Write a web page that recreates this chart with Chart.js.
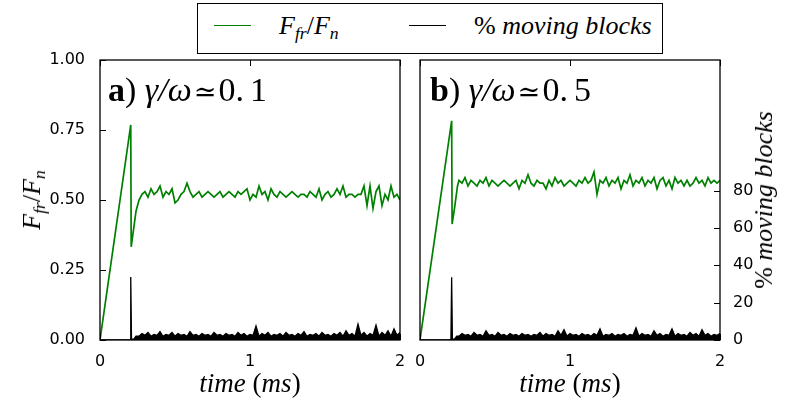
<!DOCTYPE html>
<html>
<head>
<meta charset="utf-8">
<script src="https://cdn.jsdelivr.net/npm/chart.js@4/dist/chart.umd.min.js"></script>
<style>
body { margin: 0; background: #fff; }
#wrap { position: relative; width: 800px; height: 400px; overflow: hidden; }
canvas { position: absolute; top: 0; }
.math { position: absolute; font-family: "Liberation Serif", serif; font-style: italic; white-space: nowrap; color: #000; line-height: 1; }
.up { font-style: normal; }
.sym { font-style: normal; font-family: "DejaVu Serif", serif; font-size: 80%; margin: 0 2px; }
.math sub { font-size: 68%; vertical-align: -0.28em; line-height: 0; }
#legend { position: absolute; left: 197px; top: 3px; width: 466px; height: 51px; border: 1px solid #000; box-sizing: border-box; background: #fff; }
.key { position: absolute; top: 21px; width: 37px; height: 1px; }
</style>
</head>
<body>
<div id="wrap">
  <canvas id="chartA" width="410" height="400" style="left:0"></canvas>
  <canvas id="chartB" width="390" height="400" style="left:410px"></canvas>

  <div id="legend">
    <span class="key" style="left:16px; background:#008000"></span>
    <span class="math" style="left:81px; top:22px; transform:translateY(-50%); font-size:26px">F<sub>fr</sub><span class="up">/</span>F<sub>n</sub></span>
    <span class="key" style="left:211px; background:#000"></span>
    <span class="math" style="left:276px; top:22px; transform:translateY(-50%); font-size:26px"><span class="up">%</span> moving blocks</span>
  </div>

  <div class="math" style="left:108px; top:90px; transform:translateY(-50%); font-size:34px"><b class="up">a</b><span class="up">)</span> γ/ω<span class="sym">≃</span><span class="up">0.<span style="margin-left:6px">1</span></span></div>
  <div class="math" style="left:430px; top:90px; transform:translateY(-50%); font-size:34px"><b class="up">b</b><span class="up">)</span> γ/ω<span class="sym">≃</span><span class="up">0.<span style="margin-left:6px">5</span></span></div>

  <div class="math" style="left:32px; top:200px; transform:translate(-50%,-50%) rotate(-90deg); font-size:26px">F<sub>fr</sub><span class="up">/</span>F<sub>n</sub></div>
  <div class="math" style="left:764px; top:200px; transform:translate(-50%,-50%) rotate(-90deg); font-size:26px"><span class="up">%</span> moving blocks</div>

  <div class="math" style="left:250px; top:383px; transform:translate(-50%,-50%); font-size:27px">time <span class="up">(</span>ms<span class="up">)</span></div>
  <div class="math" style="left:570px; top:383px; transform:translate(-50%,-50%); font-size:27px">time <span class="up">(</span>ms<span class="up">)</span></div>
</div>

<script>
// loading ramp, slip and recovery (before the steady regime)
const headTimeA = [0, 0.205, 0.208, 0.22, 0.24];
const headFrictionA = [0, 0.768, 0.333, 0.38, 0.46];
const headTimeB = [0, 0.211, 0.214, 0.23, 0.25];
const headFrictionB = [0, 0.783, 0.414, 0.47, 0.55];

const spikeTimeA = [0, 0.200, 0.205, 0.210, 0.225, 0.240];
const spikeMovingA = [0, 0, 33.7, 0.5, 0.5, 2];
const spikeTimeB = [0, 0.206, 0.211, 0.216, 0.230, 0.245];
const spikeMovingB = [0, 0, 33.6, 0.5, 0.5, 2];

// steady regime, time in ms
const timeSteady = [
    0.26, 0.28, 0.30, 0.32, 0.34, 0.36, 0.38, 0.40, 0.42, 0.44,
    0.46, 0.48, 0.50, 0.52, 0.54, 0.56, 0.58, 0.60, 0.62, 0.64,
    0.66, 0.68, 0.70, 0.72, 0.74, 0.76, 0.78, 0.80, 0.82, 0.84,
    0.86, 0.88, 0.90, 0.92, 0.94, 0.96, 0.98, 1.00, 1.02, 1.04,
    1.06, 1.08, 1.10, 1.12, 1.14, 1.16, 1.18, 1.20, 1.22, 1.24,
    1.26, 1.28, 1.30, 1.32, 1.34, 1.36, 1.38, 1.40, 1.42, 1.44,
    1.46, 1.48, 1.50, 1.52, 1.54, 1.56, 1.58, 1.60, 1.62, 1.64,
    1.66, 1.68, 1.70, 1.72, 1.74, 1.76, 1.78, 1.80, 1.82, 1.84,
    1.86, 1.88, 1.90, 1.92, 1.94, 1.96, 1.98, 2.00
];

// F_fr / F_n
const frictionA = [
    0.50, 0.52, 0.53, 0.51, 0.54, 0.52, 0.53, 0.55, 0.51, 0.53,
    0.52, 0.54, 0.49, 0.50, 0.52, 0.53, 0.56, 0.53, 0.51, 0.52,
    0.53, 0.51, 0.52, 0.53, 0.52, 0.51, 0.52, 0.53, 0.51, 0.52,
    0.53, 0.52, 0.51, 0.53, 0.52, 0.53, 0.54, 0.50, 0.52, 0.51,
    0.55, 0.52, 0.53, 0.50, 0.54, 0.52, 0.51, 0.53, 0.52, 0.51,
    0.52, 0.53, 0.52, 0.51, 0.52, 0.52, 0.51, 0.53, 0.52, 0.51,
    0.54, 0.50, 0.52, 0.53, 0.51, 0.52, 0.54, 0.52, 0.55, 0.51,
    0.52, 0.52, 0.51, 0.52, 0.52, 0.55, 0.48, 0.55, 0.47, 0.53,
    0.55, 0.48, 0.52, 0.50, 0.55, 0.51, 0.52, 0.50
];
const frictionB = [
    0.57, 0.56, 0.58, 0.55, 0.57, 0.56, 0.55, 0.57, 0.56, 0.58,
    0.55, 0.57, 0.56, 0.55, 0.56, 0.57, 0.56, 0.55, 0.56, 0.57,
    0.54, 0.57, 0.56, 0.59, 0.56, 0.55, 0.57, 0.56, 0.56, 0.54,
    0.57, 0.55, 0.58, 0.56, 0.57, 0.55, 0.56, 0.57, 0.56, 0.55,
    0.57, 0.56, 0.58, 0.56, 0.57, 0.60, 0.52, 0.57, 0.56, 0.58,
    0.55, 0.57, 0.56, 0.58, 0.54, 0.57, 0.56, 0.59, 0.55, 0.57,
    0.56, 0.58, 0.55, 0.57, 0.56, 0.58, 0.54, 0.57, 0.58, 0.55,
    0.57, 0.54, 0.58, 0.56, 0.57, 0.55, 0.57, 0.55, 0.56, 0.58,
    0.56, 0.57, 0.55, 0.58, 0.56, 0.57, 0.56, 0.57
];

// % moving blocks
const movingA = [
    2, 3.5, 2.5, 4, 2, 3, 2.5, 4.5, 2, 3,
    2.5, 4, 2, 3.5, 2.5, 3, 2, 4.5, 2.5, 3,
    2, 3.5, 2.5, 3, 2, 4, 2.5, 3, 2, 3.5,
    2.5, 3, 2, 4, 2.5, 3.5, 2, 3, 2.5, 7.5,
    2, 3.5, 2.5, 4, 2, 3, 2.5, 3.5, 2, 4,
    2.5, 3, 2, 3.5, 2.5, 4.5, 2, 3, 2.5, 3.5,
    2, 4, 2.5, 3, 2, 3.5, 2.5, 4, 2, 5,
    2.5, 3.5, 2, 8.5, 2.5, 4, 2, 3.5, 2.5, 8,
    2, 4, 2.5, 5, 2, 6, 2.5, 4
];
const movingB = [
    2, 3.5, 2.5, 3, 2, 4, 2.5, 3, 2, 5,
    2.5, 3, 2, 4, 2.5, 3, 2, 3.5, 2.5, 3,
    2, 3.5, 2.5, 3, 2, 3, 2.5, 4, 2, 3.5,
    2.5, 3, 2, 5, 2.5, 5.5, 2, 3.5, 2.5, 3,
    2, 3.5, 2.5, 3, 2, 3.5, 2.5, 6, 2, 3,
    2.5, 3.5, 2, 3, 2.5, 3.5, 2, 3, 2.5, 6.5,
    2, 3.5, 2.5, 3, 2, 5, 2.5, 3.5, 2, 3,
    2.5, 6, 2, 3.5, 2.5, 3, 2, 4, 2.5, 3.5,
    2, 5.5, 2.5, 3.5, 2, 3, 2.5, 3.5
];

const xTicks = [0, 1, 2];
const frictionTicks = [0, 0.25, 0.5, 0.75, 1];
const movingTicks = [0, 20, 40, 60, 80];

function toPoints(t, v) {
    return t.map((x, i) => ({ x: x, y: v[i] }));
}

// box around the plot area plus inward ticks, matplotlib style
function framePlugin(axisId, side) {
    return {
        id: 'frame' + side,
        afterDatasetsDraw(chart) {
            const { ctx, chartArea: a, scales } = chart;
            ctx.save();
            ctx.strokeStyle = '#000';
            ctx.lineWidth = 1;
            ctx.beginPath();
            scales.x.ticks.forEach(t => {
                const px = Math.round(scales.x.getPixelForValue(t.value)) + 0.5;
                ctx.moveTo(px, a.bottom); ctx.lineTo(px, a.bottom - 6);
                ctx.moveTo(px, a.top); ctx.lineTo(px, a.top + 6);
            });
            const ys = scales[axisId];
            ys.ticks.forEach(t => {
                const py = Math.round(ys.getPixelForValue(t.value)) + 0.5;
                if (side === 'left') {
                    ctx.moveTo(a.left, py); ctx.lineTo(a.left + 6, py);
                } else {
                    ctx.moveTo(a.right, py); ctx.lineTo(a.right - 6, py);
                }
            });
            ctx.stroke();
            ctx.lineWidth = 1.3;
            ctx.strokeRect(a.left, a.top, a.right - a.left, a.bottom - a.top);
            ctx.restore();
        }
    };
}

const tickFont = { family: 'DejaVu Sans', size: 16 };

function makePanel(id, head, friction, spike, moving, side) {
    const frictionData = toPoints(head[0], head[1]).concat(toPoints(timeSteady, friction));
    const movingData = toPoints(spike[0], spike[1]).concat(toPoints(timeSteady, moving));
    return new Chart(document.getElementById(id), {
        type: 'line',
        data: {
            datasets: [
                {
                    label: 'F_fr/F_n',
                    data: frictionData,
                    yAxisID: 'y',
                    borderColor: '#008000',
                    borderWidth: 1.7,
                    pointRadius: 0,
                    tension: 0,
                    fill: false,
                    order: 1,
                },
                {
                    label: '% moving blocks',
                    data: movingData,
                    yAxisID: 'y2',
                    borderColor: '#000',
                    backgroundColor: '#000',
                    borderWidth: 1.3,
                    pointRadius: 0,
                    tension: 0,
                    fill: 'origin',
                    order: 2,
                },
            ],
        },
        options: {
            responsive: false,
            animation: false,
            layout: {
                padding: side === 'left' ? { top: 60, right: 10 } : { top: 60, left: 10 },
            },
            plugins: {
                legend: { display: false },
                tooltip: { enabled: false },
            },
            scales: {
                x: {
                    type: 'linear',
                    min: 0,
                    max: 2,
                    grid: { display: false },
                    border: { display: false },
                    afterBuildTicks: s => { s.ticks = xTicks.map(v => ({ value: v })); },
                    afterFit: s => { s.height = 60; },
                    ticks: {
                        font: tickFont,
                        color: '#000',
                        padding: 4,
                        maxRotation: 0,
                        autoSkip: false,
                        callback: v => String(v),
                    },
                },
                y: {
                    position: 'left',
                    display: side === 'left',
                    min: 0,
                    max: 1,
                    grid: { display: false },
                    border: { display: false },
                    afterBuildTicks: s => { s.ticks = frictionTicks.map(v => ({ value: v })); },
                    afterFit: s => { s.width = side === 'left' ? 100 : 0; },
                    ticks: {
                        font: tickFont,
                        color: '#000',
                        padding: 7,
                        callback: v => v.toFixed(2),
                    },
                },
                y2: {
                    position: 'right',
                    display: side === 'right',
                    min: 0,
                    max: 150,
                    grid: { display: false },
                    border: { display: false },
                    afterBuildTicks: s => { s.ticks = movingTicks.map(v => ({ value: v })); },
                    afterFit: s => { s.width = side === 'right' ? 80 : 0; },
                    ticks: {
                        font: tickFont,
                        color: '#000',
                        padding: 5,
                        callback: v => String(v),
                    },
                },
            },
        },
        plugins: [framePlugin(side === 'left' ? 'y' : 'y2', side)],
    });
}

makePanel('chartA', [headTimeA, headFrictionA], frictionA, [spikeTimeA, spikeMovingA], movingA, 'left');
makePanel('chartB', [headTimeB, headFrictionB], frictionB, [spikeTimeB, spikeMovingB], movingB, 'right');
</script>
</body>
</html>
